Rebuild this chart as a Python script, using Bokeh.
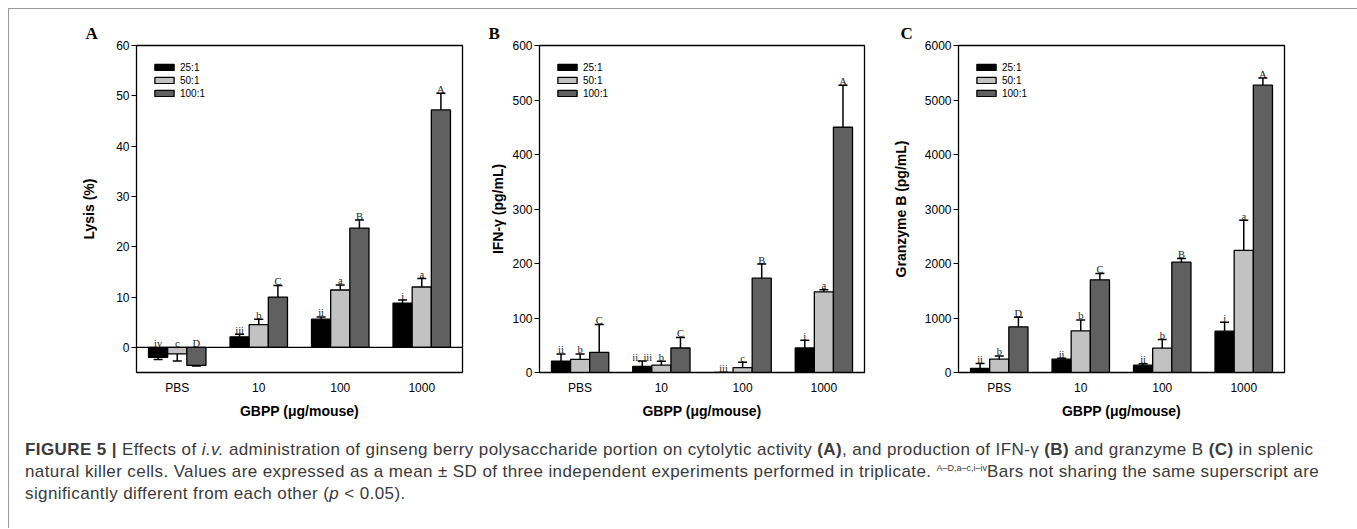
from bokeh.plotting import figure
from bokeh.models import (Range1d, FixedTicker, ColumnDataSource, Whisker, TeeHead,
                          Span, Div)
from bokeh.transform import dodge
from bokeh.layouts import row, column
from bokeh.core.properties import value
from bokeh.embed import file_html
from bokeh.resources import INLINE

# ---------------- data ----------------
categories = ["PBS", "10", "100", "1000"]
series = ["25:1", "50:1", "100:1"]

# Panel A: Lysis (%)
lysis_25 = [-2.0, 2.1, 5.6, 8.8]
lysis_25_sd = [0.4, 0.5, 0.45, 0.6]
lysis_50 = [-1.3, 4.5, 11.4, 12.0]
lysis_50_sd = [1.4, 1.1, 1.0, 1.7]
lysis_100 = [-3.6, 10.0, 23.7, 47.2]
lysis_100_sd = [0.1, 2.3, 1.6, 3.3]
lysis_let_25 = ["iv", "iii", "ii", "i"]
lysis_let_50 = ["c", "b", "a", "a"]
lysis_let_100 = ["D", "C", "B", "A"]

# Panel B: IFN-gamma (pg/mL)
ifn_25 = [21, 11, 0, 45]
ifn_25_sd = [13, 10, 0, 14]
ifn_50 = [24, 13.5, 9, 148]
ifn_50_sd = [10, 7, 10, 4]
ifn_100 = [37, 45, 173, 450]
ifn_100_sd = [51, 19, 26, 77]
ifn_let_25 = ["ii", "ii, iii", "iii", "i"]
ifn_let_50 = ["b", "b", "c", "a"]
ifn_let_100 = ["C", "C", "B", "A"]

# Panel C: Granzyme B (pg/mL)
gzm_25 = [73, 245, 135, 758]
gzm_25_sd = [92, 18, 25, 165]
gzm_50 = [245, 765, 446, 2239]
gzm_50_sd = [60, 200, 160, 556]
gzm_100 = [838, 1700, 2024, 5272]
gzm_100_sd = [177, 117, 68, 130]
gzm_let_25 = ["ii", "ii", "ii", "i"]
gzm_let_50 = ["b", "b", "b", "a"]
gzm_let_100 = ["D", "C", "B", "A"]

colors = ["#000000", "#c2c2c2", "#606060"]
offsets = [-0.235, 0.0, 0.235]
SANS = "Liberation Sans"
SERIF = "Liberation Serif"


def make_panel(vals, sds, lets, ylim, ticks, ylabel, tag, tag_x,
               left, right, fw, ystand):
    p = figure(x_range=categories, y_range=Range1d(*ylim),
               frame_width=fw, frame_height=327,
               min_border_left=left, min_border_right=right,
               min_border_top=36, min_border_bottom=50,
               output_backend="svg", toolbar_location=None)
    p.xgrid.visible = False
    p.ygrid.visible = False
    p.outline_line_color = "black"
    p.outline_line_width = 1.3
    p.background_fill_color = "white"
    p.border_fill_color = "white"

    p.title.text = tag
    p.title.align = "left"
    p.title.offset = tag_x
    p.title.standoff = 6
    p.title.text_font = SERIF
    p.title.text_font_size = "17px"
    p.title.text_font_style = "bold"
    p.title.text_color = "black"

    for i, s in enumerate(series):
        v = vals[i]
        sd = sds[i]
        end = [a + (b if a >= 0 else -b) for a, b in zip(v, sd)]
        laby = [e if a >= 0 else 0 for a, e in zip(v, end)]
        src = ColumnDataSource(dict(cat=categories, val=v, end=end,
                                    laby=laby, let=lets[i]))
        xs = dodge("cat", offsets[i], range=p.x_range)
        p.vbar(x=xs, top="val", bottom=0, width=0.235, source=src,
               fill_color=colors[i], line_color="black", line_width=1.3,
               legend_label=s)
        w = Whisker(source=src, base=dodge("cat", offsets[i], range=p.x_range),
                    lower="val", upper="end",
                    upper_head=TeeHead(size=9, line_width=1.5, line_color="black"),
                    lower_head=None, line_width=1.5, line_color="black",
                    level="annotation")
        p.add_layout(w)
        p.text(x=dodge("cat", offsets[i], range=p.x_range), y="laby", text="let",
               source=src, text_align="center", text_baseline="alphabetic",
               y_offset=-4, text_font=value(SERIF), text_font_size="10.5px",
               text_color="#222222")

    if ylim[0] < 0:
        p.add_layout(Span(location=0, dimension="width", line_color="black",
                          line_width=1.2))

    # axes
    p.yaxis.ticker = FixedTicker(ticks=ticks)
    p.yaxis.minor_tick_line_color = None
    p.yaxis.major_tick_out = 5
    p.yaxis.major_tick_in = 0
    p.yaxis.major_tick_line_color = "black"
    p.yaxis.axis_line_color = "black"
    p.yaxis.major_label_standoff = 2
    p.yaxis.major_label_text_font = SANS
    p.yaxis.major_label_text_font_size = "12px"
    p.yaxis.major_label_text_color = "black"
    p.yaxis.axis_label = ylabel
    p.yaxis.axis_label_text_font = SANS
    p.yaxis.axis_label_text_font_size = "14px"
    p.yaxis.axis_label_text_font_style = "bold"
    p.yaxis.axis_label_text_color = "black"
    p.yaxis.axis_label_standoff = ystand

    p.xaxis.major_tick_line_color = None
    p.xaxis.major_tick_out = 0
    p.xaxis.major_tick_in = 0
    p.xaxis.axis_line_color = "black"
    p.xaxis.major_label_standoff = 8
    p.xaxis.major_label_text_font = SANS
    p.xaxis.major_label_text_font_size = "12px"
    p.xaxis.major_label_text_color = "black"
    p.xaxis.axis_label = "GBPP (\u03bcg/mouse)"
    p.xaxis.axis_label_text_font = SANS
    p.xaxis.axis_label_text_font_size = "14px"
    p.xaxis.axis_label_text_font_style = "bold"
    p.xaxis.axis_label_text_color = "black"
    p.xaxis.axis_label_standoff = 5

    # legend
    lg = p.legend[0]
    lg.location = "top_left"
    lg.margin = 16
    lg.padding = 6
    lg.spacing = 1
    lg.glyph_width = 24
    lg.glyph_height = 8
    lg.label_height = 12
    lg.label_standoff = 4
    lg.label_text_font = SANS
    lg.label_text_font_size = "10px"
    lg.label_text_color = "black"
    lg.border_line_color = None
    lg.background_fill_alpha = 0
    return p


pA = make_panel([lysis_25, lysis_50, lysis_100],
                [lysis_25_sd, lysis_50_sd, lysis_100_sd],
                [lysis_let_25, lysis_let_50, lysis_let_100],
                (-5, 60), [0, 10, 20, 30, 40, 50, 60], "Lysis (%)", "A", -51,
                127, 2, 326, 16)
pB = make_panel([ifn_25, ifn_50, ifn_100],
                [ifn_25_sd, ifn_50_sd, ifn_100_sd],
                [ifn_let_25, ifn_let_50, ifn_let_100],
                (0, 600), [0, 100, 200, 300, 400, 500, 600],
                "IFN-\u03b3 (pg/mL)", "B", -51, 75, 2, 325, 3)
pC = make_panel([gzm_25, gzm_50, gzm_100],
                [gzm_25_sd, gzm_50_sd, gzm_100_sd],
                [gzm_let_25, gzm_let_50, gzm_let_100],
                (0, 6000), [0, 1000, 2000, 3000, 4000, 5000, 6000],
                "Granzyme B (pg/mL)", "C", -58, 92, 70, 326, 13)

caption_html = (
    "<div style=\"font-family:'Liberation Sans',Arial,sans-serif;font-size:17px;"
    "letter-spacing:0.4px;line-height:22px;color:#3a3a3a;white-space:nowrap;"
    "padding-left:11px;padding-top:12px;\">"
    "<b>FIGURE 5 |</b> Effects of <i>i.v.</i> administration of ginseng berry polysaccharide "
    "portion on cytolytic activity <b>(A)</b>, and production of IFN-\u03b3 <b>(B)</b> and "
    "granzyme B <b>(C)</b> in splenic<br>"
    "natural killer cells. Values are expressed as a mean \u00b1 SD of three independent "
    "experiments performed in triplicate. <span style=\"font-size:9px;letter-spacing:0;"
    "position:relative;top:-6px;line-height:0;\">A\u2013D,a\u2013c,i\u2013iv</span>"
    "Bars not sharing the same superscript are<br>"
    "significantly different from each other (<i>p</i> &lt; 0.05)."
    "</div>"
)
cap = Div(text=caption_html, width=1345, height=96)

layout = column(row(pA, pB, pC, spacing=0), cap, spacing=0,
                styles={"margin-left": "8px", "margin-top": "8px",
                        "border-top": "1px solid #9a9a9a",
                        "border-left": "1px solid #9a9a9a",
                        "border-right": "1px solid #9a9a9a"})

open("out.html", "w").write(file_html(layout, INLINE))
